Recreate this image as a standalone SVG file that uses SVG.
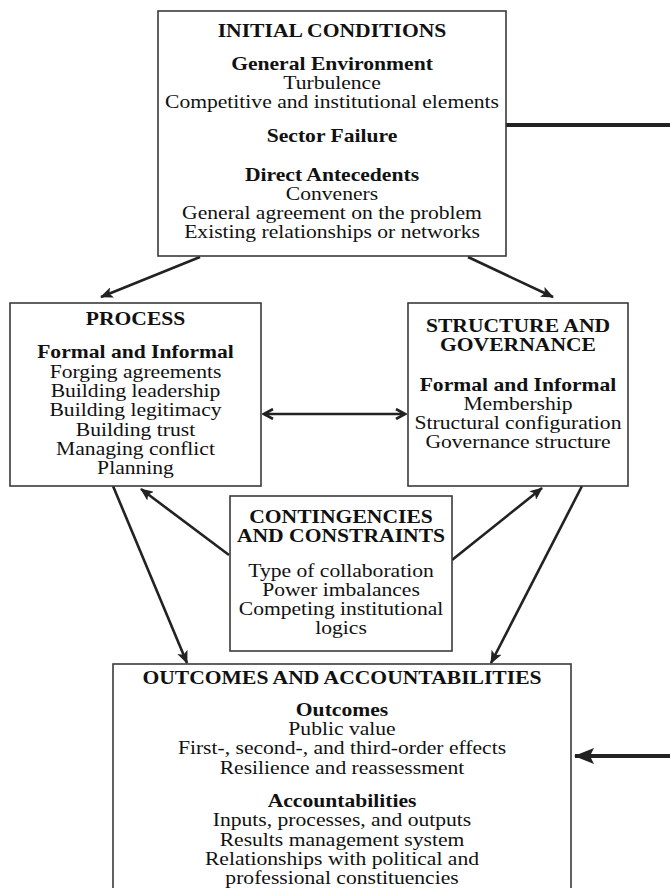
<svg xmlns="http://www.w3.org/2000/svg" width="670" height="888" viewBox="0 0 670 888">
<style>
.box{fill:#fff;stroke:#3a3a3a;stroke-width:1.6}
.t{font-family:"Liberation Serif","Times New Roman",serif;font-size:18px;fill:#111;text-anchor:middle}
.b{font-weight:bold}
.c{stroke:#222;stroke-width:2.6;fill:none}
.thick{stroke:#222;stroke-width:4;fill:none}
</style>
<defs>
<marker id="ah" viewBox="0 0 13 11" refX="12" refY="5.5" markerWidth="13" markerHeight="11" markerUnits="userSpaceOnUse" orient="auto">
<path d="M0,0 L13,5.5 L0,11 L3,5.5 z" fill="#222"/>
</marker>
<marker id="chev" viewBox="0 0 12 12" refX="10" refY="6" markerWidth="12" markerHeight="12" markerUnits="userSpaceOnUse" orient="auto-start-reverse">
<path d="M1,1 L10,6 L1,11" fill="none" stroke="#222" stroke-width="2.6"/>
</marker>
<marker id="big" viewBox="0 0 20 16" refX="19" refY="8" markerWidth="20" markerHeight="16" markerUnits="userSpaceOnUse" orient="auto">
<path d="M0,0 L20,8 L0,16 L4,8 z" fill="#222"/>
</marker>
</defs>

<g id="connectors">
<line class="thick" x1="506" y1="125" x2="670" y2="125"/>
<line class="thick" x1="670" y1="756" x2="575" y2="756" marker-end="url(#big)"/>
<line class="c" x1="200" y1="257" x2="101" y2="297" marker-end="url(#ah)"/>
<line class="c" x1="468" y1="257" x2="553" y2="297" marker-end="url(#ah)"/>
<line class="c" x1="264" y1="414" x2="405" y2="414" marker-start="url(#chev)" marker-end="url(#chev)"/>
<line class="c" x1="229" y1="555" x2="141" y2="489" marker-end="url(#ah)"/>
<line class="c" x1="452" y1="560" x2="542" y2="488" marker-end="url(#ah)"/>
<line class="c" x1="113" y1="486" x2="187" y2="663" marker-end="url(#ah)"/>
<line class="c" x1="582" y1="486" x2="491" y2="663" marker-end="url(#ah)"/>
</g>

<g id="initial-conditions">
<rect class="box" x="158" y="11" width="348" height="245"/>
<g transform="translate(332,0) scale(1.2,1)">
<text class="t b" x="0" y="37">INITIAL CONDITIONS</text>
<text class="t b" x="0" y="70">General Environment</text>
<text class="t" x="0" y="89">Turbulence</text>
<text class="t" x="0" y="108">Competitive and institutional elements</text>
<text class="t b" x="0" y="142">Sector Failure</text>
<text class="t b" x="0" y="181">Direct Antecedents</text>
<text class="t" x="0" y="200">Conveners</text>
<text class="t" x="0" y="219">General agreement on the problem</text>
<text class="t" x="0" y="238">Existing relationships or networks</text>
</g>
</g>

<g id="process">
<rect class="box" x="10" y="303" width="251" height="183"/>
<g transform="translate(135.5,0) scale(1.2,1)">
<text class="t b" x="0" y="325">PROCESS</text>
<text class="t b" x="0" y="358">Formal and Informal</text>
<text class="t" x="0" y="378">Forging agreements</text>
<text class="t" x="0" y="397">Building leadership</text>
<text class="t" x="0" y="416">Building legitimacy</text>
<text class="t" x="0" y="436">Building trust</text>
<text class="t" x="0" y="455">Managing conflict</text>
<text class="t" x="0" y="474">Planning</text>
</g>
</g>

<g id="structure-governance">
<rect class="box" x="408" y="303" width="220" height="183"/>
<g transform="translate(518,0) scale(1.2,1)">
<text class="t b" x="0" y="332">STRUCTURE AND</text>
<text class="t b" x="0" y="351">GOVERNANCE</text>
<text class="t b" x="0" y="391">Formal and Informal</text>
<text class="t" x="0" y="410">Membership</text>
<text class="t" x="0" y="429">Structural configuration</text>
<text class="t" x="0" y="448">Governance structure</text>
</g>
</g>

<g id="contingencies-constraints">
<rect class="box" x="230" y="496" width="222" height="155"/>
<g transform="translate(341,0) scale(1.2,1)">
<text class="t b" x="0" y="523">CONTINGENCIES</text>
<text class="t b" x="0" y="542">AND CONSTRAINTS</text>
<text class="t" x="0" y="577">Type of collaboration</text>
<text class="t" x="0" y="596">Power imbalances</text>
<text class="t" x="0" y="615">Competing institutional</text>
<text class="t" x="0" y="634">logics</text>
</g>
</g>

<g id="outcomes-accountabilities">
<rect class="box" x="113" y="664" width="458" height="240"/>
<g transform="translate(342,0) scale(1.2,1)">
<text class="t b" x="0" y="684">OUTCOMES AND ACCOUNTABILITIES</text>
<text class="t b" x="0" y="716">Outcomes</text>
<text class="t" x="0" y="735">Public value</text>
<text class="t" x="0" y="754">First-, second-, and third-order effects</text>
<text class="t" x="0" y="774">Resilience and reassessment</text>
<text class="t b" x="0" y="807">Accountabilities</text>
<text class="t" x="0" y="826">Inputs, processes, and outputs</text>
<text class="t" x="0" y="846">Results management system</text>
<text class="t" x="0" y="865">Relationships with political and</text>
<text class="t" x="0" y="884">professional constituencies</text>
</g>
</g>
</svg>
